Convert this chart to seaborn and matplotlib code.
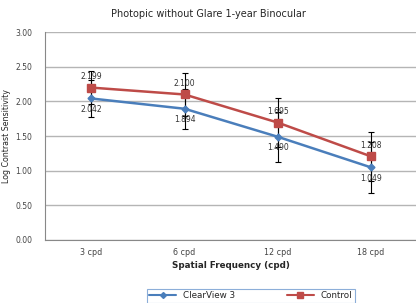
import matplotlib
matplotlib.use("Agg")
import matplotlib.pyplot as plt
import numpy as np
import pandas as pd
import seaborn as sns

categories = ["3 cpd", "6 cpd", "12 cpd", "18 cpd"]
clearview = [2.042, 1.894, 1.490, 1.049]
control = [2.199, 2.100, 1.695, 1.208]
clearview_err = [0.27, 0.29, 0.36, 0.37]
control_err = [0.24, 0.31, 0.35, 0.35]
series_names = ["ClearView 3", "Control"]
y_ticks = [0.0, 0.5, 1.0, 1.5, 2.0, 2.5, 3.0]

BLUE = "#4a7ebb"
RED = "#be4b48"

sns.set_theme(style="white")
plt.rcParams["font.family"] = ["DejaVu Sans"]

df = pd.DataFrame({
    "pos": list(range(len(categories))) * 2,
    "value": clearview + control,
    "series": [series_names[0]] * len(categories) + [series_names[1]] * len(categories),
})

fig = plt.figure(figsize=(4.16, 3.03), dpi=100)
ax = fig.add_axes([0.108, 0.208, 0.895, 0.686])

sns.lineplot(data=df, x="pos", y="value", hue="series",
             palette=[BLUE, RED], linewidth=1.8, ax=ax, legend=False)
x = np.arange(len(categories))
ax.plot(x, clearview, linestyle="none", marker="D", markersize=3.5, color=BLUE, zorder=4)
ax.plot(x, control, linestyle="none", marker="s", markersize=6, color=RED, zorder=4)

ax.errorbar(x, control, yerr=control_err, fmt="none", ecolor="black",
            elinewidth=0.8, capsize=2, capthick=0.8, zorder=3)
ax.errorbar(x, clearview, yerr=clearview_err, fmt="none", ecolor="black",
            elinewidth=0.8, capsize=2, capthick=0.8, zorder=3)

for xi, v in zip(x, control):
    ax.text(xi, v + 0.09, f"{v:.3f}", ha="center", va="bottom", fontsize=5.5,
            color="#333333", zorder=5)
for xi, v in zip(x, clearview):
    ax.text(xi, v - 0.09, f"{v:.3f}", ha="center", va="top", fontsize=5.5,
            color="#333333", zorder=5)

ax.set_xlim(-0.5, len(categories) - 0.5)
ax.set_ylim(0, 3.0)
ax.set_yticks(y_ticks)
ax.set_yticklabels([f"{t:.2f}" for t in y_ticks], fontsize=5.5, color="#444444")
ax.set_xticks(x)
ax.set_xticklabels(categories, fontsize=5.8, color="#444444")
ax.set_xticks(np.arange(-0.5, len(categories), 1.0), minor=True)
ax.tick_params(axis="x", which="major", length=0, pad=6)
ax.tick_params(axis="x", which="minor", length=3, color="#888888", direction="out")
ax.tick_params(axis="y", length=3, color="#888888", pad=6, direction="out")
ax.yaxis.grid(True, color="#b5b5b5", linewidth=1.0)
ax.set_axisbelow(True)
for side in ["top", "right"]:
    ax.spines[side].set_visible(False)
for side in ["left", "bottom"]:
    ax.spines[side].set_color("#888888")
    ax.spines[side].set_linewidth(0.8)

ax.set_xlabel("Spatial Frequency (cpd)", fontsize=6.3, fontweight="bold", labelpad=3)
ax.set_ylabel("Log Contrast Sensitivity", fontsize=5.7, labelpad=3)
fig.text(0.5, 0.955, "Photopic without Glare 1-year Binocular", ha="center",
         va="center", fontsize=7)

handles = [
    plt.Line2D([], [], color=BLUE, marker="D", markersize=3, linewidth=1.5),
    plt.Line2D([], [], color=RED, marker="s", markersize=4, linewidth=1.5),
]
leg = fig.legend(handles, series_names, loc="upper center", ncol=2,
                 bbox_to_anchor=(0.603, 0.047), fontsize=6.3, frameon=True,
                 fancybox=False, handlelength=3, columnspacing=6,
                 borderpad=0.3, borderaxespad=0)
leg.get_frame().set_edgecolor("#6f9ad0")
leg.get_frame().set_linewidth(0.8)

fig.savefig("out.png", dpi=100)
